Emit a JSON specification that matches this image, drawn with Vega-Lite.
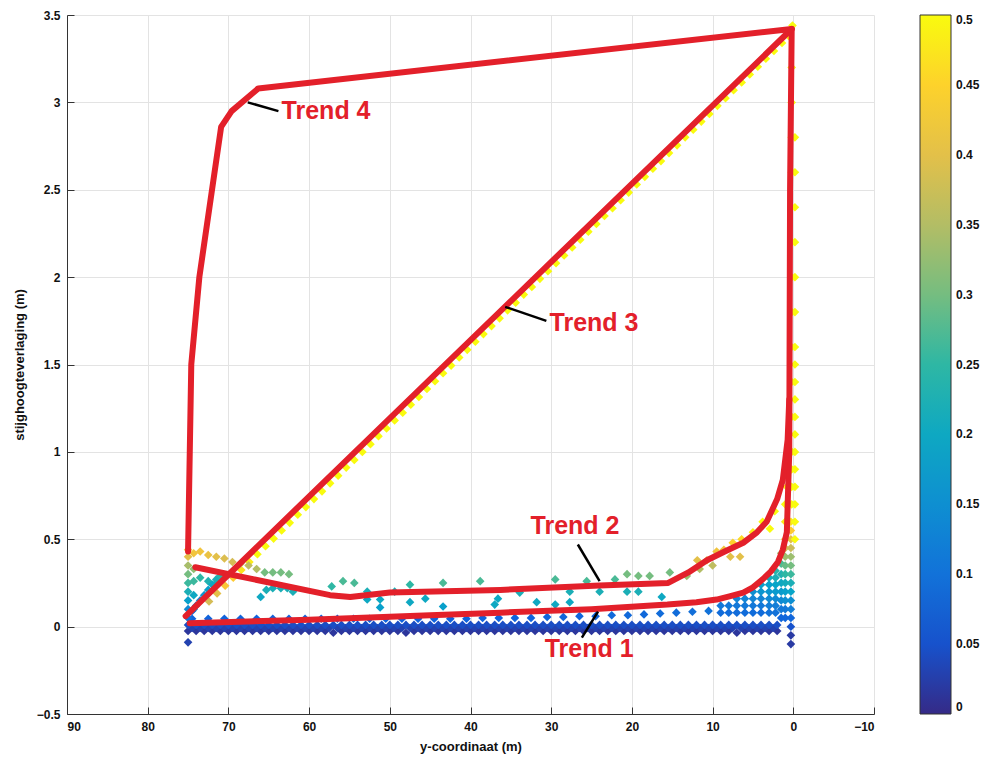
{
"$schema":"https://vega.github.io/schema/vega-lite/v6.json",
"width":807,"height":699,
"autosize":{"type":"none"},
"padding":{"left":67,"top":15,"right":114,"bottom":49},
"config":{"view":{"stroke":null},"font":"Liberation Sans",
 "axis":{"gridColor":"#e3e3e3","gridWidth":1,"domainColor":"#333","tickColor":"#333","tickSize":-7,"labelPadding":14,"labelFont":"Liberation Sans","labelFontWeight":"bold","labelFontSize":12,"labelColor":"#111","titleFont":"Liberation Sans","titleFontSize":13,"titleFontWeight":"bold","titleColor":"#111"}},
"datasets":{
"pts":[
{"x":75,"y":-0.025,"c":0.015},{"x":74,"y":-0.025,"c":0.015},{"x":73,"y":-0.025,"c":0.015},{"x":72,"y":-0.025,"c":0.015},{"x":71,"y":-0.025,"c":0.015},{"x":70,"y":-0.025,"c":0.015},{"x":69,"y":-0.025,"c":0.015},{"x":68,"y":-0.025,"c":0.015},{"x":67,"y":-0.025,"c":0.015},{"x":66,"y":-0.025,"c":0.015},{"x":65,"y":-0.025,"c":0.015},{"x":64,"y":-0.025,"c":0.015},{"x":63,"y":-0.025,"c":0.015},{"x":62,"y":-0.025,"c":0.015},{"x":61,"y":-0.025,"c":0.015},{"x":60,"y":-0.025,"c":0.015},{"x":59,"y":-0.025,"c":0.015},{"x":58,"y":-0.025,"c":0.015},{"x":57,"y":-0.035,"c":0.015},{"x":56,"y":-0.025,"c":0.015},{"x":55,"y":-0.025,"c":0.015},{"x":54,"y":-0.025,"c":0.015},{"x":53,"y":-0.025,"c":0.015},{"x":52,"y":-0.025,"c":0.015},{"x":51,"y":-0.025,"c":0.015},{"x":50,"y":-0.025,"c":0.015},{"x":49,"y":-0.025,"c":0.015},{"x":48,"y":-0.035,"c":0.015},{"x":47,"y":-0.025,"c":0.015},{"x":46,"y":-0.025,"c":0.015},{"x":45,"y":-0.025,"c":0.015},{"x":44,"y":-0.025,"c":0.015},{"x":43,"y":-0.025,"c":0.015},{"x":42,"y":-0.025,"c":0.015},{"x":41,"y":-0.025,"c":0.015},{"x":40,"y":-0.025,"c":0.015},{"x":39,"y":-0.025,"c":0.015},{"x":38,"y":-0.025,"c":0.015},{"x":37,"y":-0.025,"c":0.015},{"x":36,"y":-0.025,"c":0.015},{"x":35,"y":-0.025,"c":0.015},{"x":34,"y":-0.025,"c":0.015},{"x":33,"y":-0.025,"c":0.015},{"x":32,"y":-0.025,"c":0.015},{"x":31,"y":-0.025,"c":0.015},{"x":30,"y":-0.025,"c":0.015},{"x":29,"y":-0.025,"c":0.015},{"x":28,"y":-0.025,"c":0.015},{"x":27,"y":-0.025,"c":0.015},{"x":26,"y":-0.025,"c":0.015},{"x":25,"y":-0.025,"c":0.015},{"x":24,"y":-0.025,"c":0.015},{"x":23,"y":-0.025,"c":0.015},{"x":22,"y":-0.025,"c":0.015},{"x":21,"y":-0.025,"c":0.015},{"x":20,"y":-0.025,"c":0.015},{"x":19,"y":-0.025,"c":0.015},{"x":18,"y":-0.025,"c":0.015},{"x":17,"y":-0.025,"c":0.015},{"x":16,"y":-0.025,"c":0.015},{"x":15,"y":-0.025,"c":0.015},{"x":14,"y":-0.025,"c":0.015},{"x":13,"y":-0.025,"c":0.015},{"x":12,"y":-0.025,"c":0.015},{"x":11,"y":-0.025,"c":0.015},{"x":10,"y":-0.025,"c":0.015},{"x":9,"y":-0.025,"c":0.015},{"x":8,"y":-0.025,"c":0.015},{"x":7,"y":-0.035,"c":0.015},{"x":6,"y":-0.025,"c":0.015},{"x":5,"y":-0.025,"c":0.015},{"x":4,"y":-0.025,"c":0.015},{"x":3,"y":-0.025,"c":0.015},{"x":2,"y":-0.025,"c":0.015},
{"x":74.5,"y":-0.008,"c":0.03},{"x":73.5,"y":-0.008,"c":0.03},{"x":72.5,"y":-0.008,"c":0.03},{"x":71.5,"y":-0.008,"c":0.03},{"x":70.5,"y":-0.008,"c":0.03},{"x":69.5,"y":-0.008,"c":0.03},{"x":68.5,"y":-0.008,"c":0.03},{"x":67.5,"y":-0.008,"c":0.03},{"x":66.5,"y":-0.008,"c":0.03},{"x":65.5,"y":-0.008,"c":0.03},{"x":64.5,"y":-0.008,"c":0.03},{"x":63.5,"y":-0.008,"c":0.03},{"x":62.5,"y":-0.008,"c":0.03},{"x":61.5,"y":-0.008,"c":0.03},{"x":60.5,"y":-0.008,"c":0.03},{"x":59.5,"y":-0.008,"c":0.03},{"x":58.5,"y":-0.008,"c":0.03},{"x":57.5,"y":-0.008,"c":0.03},{"x":56.5,"y":-0.008,"c":0.03},{"x":55.5,"y":-0.008,"c":0.03},{"x":54.5,"y":-0.008,"c":0.03},{"x":53.5,"y":-0.008,"c":0.03},{"x":52.5,"y":-0.008,"c":0.03},{"x":51.5,"y":-0.008,"c":0.03},{"x":50.5,"y":-0.008,"c":0.03},{"x":49.5,"y":-0.008,"c":0.03},{"x":48.5,"y":-0.008,"c":0.03},{"x":47.5,"y":-0.008,"c":0.03},{"x":46.5,"y":-0.008,"c":0.03},{"x":45.5,"y":-0.008,"c":0.03},{"x":44.5,"y":-0.008,"c":0.03},{"x":43.5,"y":-0.008,"c":0.03},{"x":42.5,"y":-0.008,"c":0.03},{"x":41.5,"y":-0.008,"c":0.03},{"x":40.5,"y":-0.008,"c":0.03},{"x":39.5,"y":-0.008,"c":0.03},{"x":38.5,"y":-0.008,"c":0.03},{"x":37.5,"y":-0.008,"c":0.03},{"x":36.5,"y":-0.008,"c":0.03},{"x":35.5,"y":-0.008,"c":0.03},{"x":34.5,"y":-0.008,"c":0.03},{"x":33.5,"y":-0.008,"c":0.03},{"x":32.5,"y":-0.008,"c":0.03},{"x":31.5,"y":-0.008,"c":0.03},{"x":30.5,"y":-0.008,"c":0.03},{"x":29.5,"y":-0.008,"c":0.03},{"x":28.5,"y":-0.008,"c":0.03},{"x":27.5,"y":-0.008,"c":0.03},{"x":26.5,"y":-0.008,"c":0.03},{"x":25.5,"y":-0.008,"c":0.03},{"x":24.5,"y":-0.008,"c":0.03},{"x":23.5,"y":-0.008,"c":0.03},{"x":22.5,"y":-0.008,"c":0.03},{"x":21.5,"y":-0.008,"c":0.03},{"x":20.5,"y":-0.008,"c":0.03},{"x":19.5,"y":-0.008,"c":0.03},{"x":18.5,"y":-0.008,"c":0.03},{"x":17.5,"y":-0.008,"c":0.03},{"x":16.5,"y":-0.008,"c":0.03},{"x":15.5,"y":-0.008,"c":0.03},{"x":14.5,"y":-0.008,"c":0.03},{"x":13.5,"y":-0.008,"c":0.03},{"x":12.5,"y":-0.008,"c":0.03},{"x":11.5,"y":-0.008,"c":0.03},{"x":10.5,"y":-0.008,"c":0.03},{"x":9.5,"y":-0.008,"c":0.03},{"x":8.5,"y":-0.008,"c":0.03},{"x":7.5,"y":-0.008,"c":0.03},{"x":6.5,"y":-0.008,"c":0.03},{"x":5.5,"y":-0.008,"c":0.03},{"x":4.5,"y":-0.008,"c":0.03},{"x":3.5,"y":-0.008,"c":0.03},{"x":2.5,"y":-0.008,"c":0.03},
{"x":75,"y":0.01,"c":0.045},{"x":74,"y":0.01,"c":0.045},{"x":73,"y":0.01,"c":0.045},{"x":72,"y":0.01,"c":0.045},{"x":71,"y":0.01,"c":0.045},{"x":70,"y":0.01,"c":0.045},{"x":69,"y":0.01,"c":0.045},{"x":68,"y":0.01,"c":0.045},{"x":67,"y":0.01,"c":0.045},{"x":66,"y":0.01,"c":0.045},{"x":65,"y":0.01,"c":0.045},{"x":64,"y":0.01,"c":0.045},{"x":63,"y":0.01,"c":0.045},{"x":62,"y":0.01,"c":0.045},{"x":61,"y":0.01,"c":0.045},{"x":60,"y":0.01,"c":0.045},{"x":59,"y":0.01,"c":0.045},{"x":58,"y":0.01,"c":0.045},{"x":57,"y":0.01,"c":0.045},{"x":56,"y":0.01,"c":0.045},{"x":55,"y":0.01,"c":0.045},{"x":54,"y":0.01,"c":0.045},{"x":53,"y":0.01,"c":0.045},{"x":52,"y":0.01,"c":0.045},{"x":51,"y":0.01,"c":0.045},{"x":50,"y":0.01,"c":0.045},{"x":49,"y":0.01,"c":0.045},{"x":48,"y":0.01,"c":0.045},{"x":47,"y":0.01,"c":0.045},{"x":46,"y":0.01,"c":0.045},{"x":45,"y":0.01,"c":0.045},{"x":44,"y":0.01,"c":0.045},{"x":43,"y":0.01,"c":0.045},{"x":42,"y":0.01,"c":0.045},{"x":41,"y":0.01,"c":0.045},{"x":40,"y":0.01,"c":0.045},{"x":39,"y":0.01,"c":0.045},{"x":38,"y":0.01,"c":0.045},{"x":37,"y":0.01,"c":0.045},{"x":36,"y":0.01,"c":0.045},{"x":35,"y":0.01,"c":0.045},{"x":34,"y":0.01,"c":0.045},{"x":33,"y":0.01,"c":0.045},{"x":32,"y":0.01,"c":0.045},{"x":31,"y":0.01,"c":0.045},{"x":30,"y":0.01,"c":0.045},{"x":29,"y":0.01,"c":0.045},{"x":28,"y":0.01,"c":0.045},{"x":27,"y":0.01,"c":0.045},{"x":26,"y":0.01,"c":0.045},{"x":25,"y":0.01,"c":0.045},{"x":24,"y":0.01,"c":0.045},{"x":23,"y":0.01,"c":0.045},{"x":22,"y":0.01,"c":0.045},{"x":21,"y":0.01,"c":0.045},{"x":20,"y":0.01,"c":0.045},{"x":19,"y":0.01,"c":0.045},{"x":18,"y":0.01,"c":0.045},{"x":17,"y":0.01,"c":0.045},{"x":16,"y":0.01,"c":0.045},{"x":15,"y":0.01,"c":0.045},{"x":14,"y":0.01,"c":0.045},{"x":13,"y":0.01,"c":0.045},{"x":12,"y":0.01,"c":0.045},{"x":11,"y":0.01,"c":0.045},{"x":10,"y":0.01,"c":0.045},{"x":9,"y":0.01,"c":0.045},{"x":8,"y":0.01,"c":0.045},{"x":7,"y":0.01,"c":0.045},{"x":6,"y":0.01,"c":0.045},{"x":5,"y":0.01,"c":0.045},{"x":4,"y":0.01,"c":0.045},{"x":3,"y":0.01,"c":0.045},{"x":2,"y":0.01,"c":0.045},
{"x":74.5,"y":0.045,"c":0.075},{"x":72.5,"y":0.045,"c":0.075},{"x":70.5,"y":0.045,"c":0.075},{"x":68.5,"y":0.045,"c":0.075},{"x":66.5,"y":0.045,"c":0.075},{"x":64.5,"y":0.045,"c":0.075},{"x":62.5,"y":0.045,"c":0.075},{"x":60.5,"y":0.045,"c":0.075},{"x":58.5,"y":0.045,"c":0.075},{"x":56.5,"y":0.045,"c":0.075},{"x":54.5,"y":0.045,"c":0.075},{"x":52.5,"y":0.045,"c":0.075},{"x":50.5,"y":0.045,"c":0.075},{"x":48.5,"y":0.045,"c":0.075},{"x":46.5,"y":0.045,"c":0.075},{"x":44.5,"y":0.045,"c":0.075},{"x":42.5,"y":0.045,"c":0.075},{"x":40.5,"y":0.045,"c":0.075},{"x":38.5,"y":0.05,"c":0.075},{"x":36.5,"y":0.05,"c":0.075},{"x":34.5,"y":0.05,"c":0.075},{"x":32.5,"y":0.05,"c":0.075},{"x":30.5,"y":0.055,"c":0.08},{"x":28.5,"y":0.055,"c":0.08},{"x":26.5,"y":0.06,"c":0.08},{"x":24.5,"y":0.06,"c":0.08},{"x":22.5,"y":0.065,"c":0.085},{"x":20.5,"y":0.065,"c":0.085},{"x":18.5,"y":0.07,"c":0.085},{"x":16.5,"y":0.075,"c":0.09},{"x":14.5,"y":0.08,"c":0.09},{"x":12.5,"y":0.085,"c":0.095},{"x":10.5,"y":0.09,"c":0.1},
{"x":9,"y":0.08,"c":0.09},{"x":9,"y":0.12,"c":0.11},{"x":8,"y":0.08,"c":0.09},{"x":8,"y":0.12,"c":0.11},{"x":7,"y":0.08,"c":0.09},{"x":7,"y":0.12,"c":0.11},{"x":7,"y":0.16,"c":0.13},{"x":6,"y":0.08,"c":0.09},{"x":6,"y":0.12,"c":0.11},{"x":6,"y":0.16,"c":0.13},{"x":5,"y":0.08,"c":0.09},{"x":5,"y":0.12,"c":0.11},{"x":5,"y":0.16,"c":0.13},{"x":5,"y":0.2,"c":0.15},{"x":4,"y":0.08,"c":0.09},{"x":4,"y":0.12,"c":0.11},{"x":4,"y":0.16,"c":0.13},{"x":4,"y":0.2,"c":0.16},{"x":4,"y":0.24,"c":0.18},{"x":3,"y":0.08,"c":0.1},{"x":3,"y":0.12,"c":0.12},{"x":3,"y":0.16,"c":0.14},{"x":3,"y":0.2,"c":0.16},{"x":3,"y":0.24,"c":0.18},{"x":3,"y":0.28,"c":0.21},{"x":2.2,"y":0.08,"c":0.1},{"x":2.2,"y":0.12,"c":0.12},{"x":2.2,"y":0.16,"c":0.14},{"x":2.2,"y":0.2,"c":0.17},{"x":2.2,"y":0.24,"c":0.19},{"x":2.2,"y":0.28,"c":0.22},{"x":2.2,"y":0.32,"c":0.24},{"x":1.5,"y":0.05,"c":0.08},{"x":1.5,"y":0.1,"c":0.11},{"x":1.5,"y":0.15,"c":0.14},{"x":1.5,"y":0.2,"c":0.17},{"x":1.5,"y":0.25,"c":0.2},{"x":1.5,"y":0.3,"c":0.23},{"x":1.5,"y":0.36,"c":0.27},{"x":1.5,"y":0.42,"c":0.33},{"x":1,"y":0.05,"c":0.08},{"x":1,"y":0.1,"c":0.11},{"x":1,"y":0.15,"c":0.15},{"x":1,"y":0.2,"c":0.18},{"x":1,"y":0.25,"c":0.21},{"x":1,"y":0.3,"c":0.25},{"x":1,"y":0.35,"c":0.29},{"x":1,"y":0.4,"c":0.33},{"x":1,"y":0.45,"c":0.38},{"x":1,"y":0.5,"c":0.43},{"x":1,"y":0.6,"c":0.48},{"x":1,"y":0.7,"c":0.5},{"x":0.8,"y":0.8,"c":0.5},{"x":0.7,"y":0.9,"c":0.5},
{"x":0.3,"y":-0.1,"c":0.02},{"x":0.3,"y":-0.05,"c":0.02},{"x":0.3,"y":0.0,"c":0.05},{"x":0.3,"y":0.05,"c":0.08},{"x":0.3,"y":0.1,"c":0.12},{"x":0.3,"y":0.15,"c":0.15},{"x":0.3,"y":0.2,"c":0.19},{"x":0.3,"y":0.25,"c":0.22},{"x":0.3,"y":0.3,"c":0.26},{"x":0.3,"y":0.35,"c":0.3},{"x":0.3,"y":0.4,"c":0.33},{"x":0.3,"y":0.45,"c":0.37},{"x":0.3,"y":0.5,"c":0.4},{"x":0.3,"y":0.55,"c":0.44},{"x":0.3,"y":0.6,"c":0.47},
{"x":-0.2,"y":0.5,"c":0.5},{"x":-0.2,"y":0.6,"c":0.5},{"x":-0.2,"y":0.7,"c":0.5},{"x":-0.2,"y":0.8,"c":0.5},{"x":-0.2,"y":0.9,"c":0.5},{"x":-0.2,"y":1.0,"c":0.5},{"x":-0.2,"y":1.1,"c":0.5},{"x":-0.2,"y":1.2,"c":0.5},{"x":-0.2,"y":1.3,"c":0.5},{"x":-0.2,"y":1.4,"c":0.5},{"x":-0.2,"y":1.5,"c":0.5},{"x":-0.2,"y":1.6,"c":0.5},{"x":-0.2,"y":1.8,"c":0.5},{"x":-0.2,"y":2.0,"c":0.5},{"x":-0.2,"y":2.2,"c":0.5},{"x":-0.2,"y":2.4,"c":0.5},{"x":-0.2,"y":2.6,"c":0.5},{"x":-0.2,"y":2.8,"c":0.5},
{"x":0.2,"y":0.7,"c":0.5},{"x":0.2,"y":0.8,"c":0.5},{"x":0.2,"y":0.9,"c":0.5},{"x":0.2,"y":1.0,"c":0.5},{"x":0.2,"y":1.2,"c":0.5},{"x":0.2,"y":1.4,"c":0.5},{"x":0.2,"y":1.6,"c":0.5},{"x":0.2,"y":1.8,"c":0.5},{"x":0.2,"y":2.0,"c":0.5},{"x":0.2,"y":2.2,"c":0.5},{"x":0.2,"y":2.4,"c":0.5},{"x":0.2,"y":2.6,"c":0.5},{"x":0.2,"y":2.8,"c":0.5},{"x":0.2,"y":3.0,"c":0.5},{"x":0.2,"y":3.2,"c":0.5},{"x":0.1,"y":3.44,"c":0.5},
{"x":72.4,"y":0.144,"c":0.38},{"x":70.4,"y":0.234,"c":0.43},{"x":68.4,"y":0.324,"c":0.47},{"x":66.4,"y":0.414,"c":0.5},{"x":64.4,"y":0.504,"c":0.5},{"x":62.4,"y":0.594,"c":0.5},{"x":60.4,"y":0.684,"c":0.5},{"x":58.4,"y":0.774,"c":0.5},{"x":56.4,"y":0.864,"c":0.5},{"x":54.4,"y":0.954,"c":0.5},{"x":52.4,"y":1.044,"c":0.5},{"x":50.4,"y":1.134,"c":0.5},{"x":48.4,"y":1.224,"c":0.5},{"x":46.4,"y":1.314,"c":0.5},{"x":44.4,"y":1.404,"c":0.5},{"x":42.4,"y":1.494,"c":0.5},{"x":40.4,"y":1.584,"c":0.5},{"x":38.4,"y":1.674,"c":0.5},{"x":36.4,"y":1.764,"c":0.5},{"x":34.4,"y":1.854,"c":0.5},{"x":32.4,"y":1.944,"c":0.5},{"x":30.4,"y":2.034,"c":0.5},{"x":28.4,"y":2.124,"c":0.5},{"x":26.4,"y":2.214,"c":0.5},{"x":24.4,"y":2.304,"c":0.5},{"x":22.4,"y":2.394,"c":0.5},{"x":20.4,"y":2.484,"c":0.5},{"x":18.4,"y":2.574,"c":0.5},{"x":16.4,"y":2.664,"c":0.5},{"x":14.4,"y":2.754,"c":0.5},{"x":12.4,"y":2.844,"c":0.5},{"x":10.4,"y":2.934,"c":0.5},{"x":8.4,"y":3.024,"c":0.5},{"x":6.4,"y":3.114,"c":0.5},{"x":4.4,"y":3.204,"c":0.5},{"x":2.4,"y":3.294,"c":0.5},{"x":0.6,"y":3.38,"c":0.5},
{"x":71.4,"y":0.19,"c":0.4},{"x":69.4,"y":0.28,"c":0.44},{"x":67.4,"y":0.37,"c":0.48},{"x":65.4,"y":0.46,"c":0.5},{"x":63.4,"y":0.55,"c":0.5},{"x":61.4,"y":0.64,"c":0.5},{"x":59.4,"y":0.73,"c":0.5},{"x":57.4,"y":0.82,"c":0.5},{"x":55.4,"y":0.91,"c":0.5},{"x":53.4,"y":1.0,"c":0.5},{"x":51.4,"y":1.09,"c":0.5},{"x":49.4,"y":1.18,"c":0.5},{"x":47.4,"y":1.27,"c":0.5},{"x":45.4,"y":1.36,"c":0.5},{"x":43.4,"y":1.45,"c":0.5},{"x":41.4,"y":1.54,"c":0.5},{"x":39.4,"y":1.63,"c":0.5},{"x":37.4,"y":1.72,"c":0.5},{"x":35.4,"y":1.81,"c":0.5},{"x":33.4,"y":1.9,"c":0.5},{"x":31.4,"y":1.99,"c":0.5},{"x":29.4,"y":2.08,"c":0.5},{"x":27.4,"y":2.17,"c":0.5},{"x":25.4,"y":2.26,"c":0.5},{"x":23.4,"y":2.35,"c":0.5},{"x":21.4,"y":2.44,"c":0.5},{"x":19.4,"y":2.53,"c":0.5},{"x":17.4,"y":2.62,"c":0.5},{"x":15.4,"y":2.71,"c":0.5},{"x":13.4,"y":2.8,"c":0.5},{"x":11.4,"y":2.89,"c":0.5},{"x":9.4,"y":2.98,"c":0.5},{"x":7.4,"y":3.07,"c":0.5},{"x":5.4,"y":3.16,"c":0.5},{"x":3.4,"y":3.25,"c":0.5},{"x":1.4,"y":3.34,"c":0.5},
{"x":75,"y":-0.09,"c":0.03},{"x":75,"y":0.05,"c":0.1},{"x":75,"y":0.1,"c":0.14},{"x":75,"y":0.15,"c":0.18},{"x":75,"y":0.2,"c":0.22},{"x":75,"y":0.25,"c":0.26},{"x":75,"y":0.3,"c":0.3},{"x":75,"y":0.35,"c":0.34},{"x":75,"y":0.4,"c":0.4},{"x":75,"y":0.44,"c":0.43},{"x":74.3,"y":0.1,"c":0.15},{"x":74.3,"y":0.18,"c":0.2},{"x":74.3,"y":0.26,"c":0.26},{"x":74.3,"y":0.33,"c":0.32},{"x":74.3,"y":0.42,"c":0.42},
{"x":73.5,"y":0.43,"c":0.42},{"x":72.5,"y":0.41,"c":0.41},{"x":71.5,"y":0.4,"c":0.4},{"x":70.5,"y":0.39,"c":0.39},{"x":69.5,"y":0.37,"c":0.38},{"x":68.5,"y":0.36,"c":0.37},{"x":67.5,"y":0.35,"c":0.36},{"x":66.5,"y":0.33,"c":0.35},
{"x":65.5,"y":0.31,"c":0.3},{"x":64.5,"y":0.31,"c":0.3},{"x":63.5,"y":0.31,"c":0.3},{"x":62.5,"y":0.3,"c":0.3},
{"x":73.5,"y":0.28,"c":0.25},{"x":72.5,"y":0.26,"c":0.23},{"x":71.5,"y":0.25,"c":0.22},
{"x":74.5,"y":0.09,"c":0.1},{"x":74,"y":0.12,"c":0.12},{"x":73.5,"y":0.15,"c":0.14},{"x":73,"y":0.18,"c":0.16},{"x":72.5,"y":0.21,"c":0.18},{"x":72,"y":0.24,"c":0.2},{"x":71.5,"y":0.27,"c":0.22},{"x":71,"y":0.29,"c":0.24},
{"x":66,"y":0.17,"c":0.2},{"x":65.3,"y":0.21,"c":0.22},{"x":64.5,"y":0.22,"c":0.22},{"x":63.5,"y":0.22,"c":0.22},{"x":62.7,"y":0.22,"c":0.22},{"x":62,"y":0.2,"c":0.22},
{"x":57.2,"y":0.23,"c":0.25},{"x":55.8,"y":0.26,"c":0.27},{"x":54.4,"y":0.25,"c":0.27},{"x":52.8,"y":0.2,"c":0.22},{"x":52.8,"y":0.155,"c":0.2},{"x":51.2,"y":0.155,"c":0.2},{"x":51.2,"y":0.11,"c":0.18},{"x":49.4,"y":0.2,"c":0.22},{"x":47.5,"y":0.24,"c":0.25},{"x":47.5,"y":0.14,"c":0.2},{"x":45.6,"y":0.16,"c":0.2},{"x":43.4,"y":0.25,"c":0.27},{"x":43.4,"y":0.115,"c":0.18},{"x":38.8,"y":0.26,"c":0.27},{"x":36.6,"y":0.16,"c":0.2},
{"x":33.9,"y":0.195,"c":0.22},{"x":37,"y":0.126,"c":0.2},{"x":31.8,"y":0.14,"c":0.2},{"x":29.5,"y":0.27,"c":0.27},{"x":29.5,"y":0.126,"c":0.2},{"x":27.7,"y":0.2,"c":0.22},{"x":27.7,"y":0.14,"c":0.2},{"x":25.6,"y":0.26,"c":0.27},{"x":24,"y":0.2,"c":0.22},{"x":22.1,"y":0.27,"c":0.27},{"x":20.6,"y":0.3,"c":0.3},{"x":20.6,"y":0.2,"c":0.22},{"x":19.2,"y":0.29,"c":0.3},{"x":19.2,"y":0.2,"c":0.22},{"x":17.8,"y":0.29,"c":0.3},{"x":16.3,"y":0.17,"c":0.2},{"x":15.3,"y":0.31,"c":0.3},
{"x":13.2,"y":0.29,"c":0.33},{"x":11.6,"y":0.33,"c":0.35},{"x":10,"y":0.35,"c":0.36},{"x":11.9,"y":0.38,"c":0.4},{"x":10.7,"y":0.38,"c":0.4},{"x":9.5,"y":0.43,"c":0.42},{"x":8.6,"y":0.44,"c":0.42},{"x":7.8,"y":0.4,"c":0.4},{"x":6.6,"y":0.4,"c":0.4},{"x":7.5,"y":0.48,"c":0.45},{"x":6.4,"y":0.5,"c":0.46},{"x":5,"y":0.54,"c":0.48},{"x":3.8,"y":0.6,"c":0.5},{"x":2.9,"y":0.56,"c":0.5},{"x":2.3,"y":0.66,"c":0.5}
],
"trend":[
{"t":"T1","o":1,"x":74.8,"y":0.02},{"t":"T1","o":2,"x":60,"y":0.04},{"t":"T1","o":3,"x":45,"y":0.065},{"t":"T1","o":4,"x":36.3,"y":0.08},{"t":"T1","o":5,"x":25,"y":0.1},{"t":"T1","o":6,"x":15.6,"y":0.126},{"t":"T1","o":7,"x":12,"y":0.14},{"t":"T1","o":8,"x":9.5,"y":0.155},{"t":"T1","o":9,"x":7.8,"y":0.175},{"t":"T1","o":10,"x":6.2,"y":0.195},{"t":"T1","o":11,"x":5,"y":0.225},{"t":"T1","o":12,"x":3.8,"y":0.27},{"t":"T1","o":13,"x":2.8,"y":0.315},{"t":"T1","o":14,"x":1.9,"y":0.37},{"t":"T1","o":15,"x":1.3,"y":0.44},{"t":"T1","o":16,"x":0.8,"y":0.54},{"t":"T1","o":17,"x":0.5,"y":1.0},{"t":"T1","o":18,"x":0.4,"y":2.5},{"t":"T1","o":19,"x":0.2,"y":3.42},
{"t":"T2","o":1,"x":74.1,"y":0.34},{"t":"T2","o":2,"x":57.4,"y":0.18},{"t":"T2","o":3,"x":54.9,"y":0.17},{"t":"T2","o":4,"x":50,"y":0.195},{"t":"T2","o":5,"x":36.3,"y":0.21},{"t":"T2","o":6,"x":24,"y":0.235},{"t":"T2","o":7,"x":15.5,"y":0.25},{"t":"T2","o":8,"x":13,"y":0.31},{"t":"T2","o":9,"x":10.7,"y":0.38},{"t":"T2","o":10,"x":8.5,"y":0.43},{"t":"T2","o":11,"x":6.2,"y":0.48},{"t":"T2","o":12,"x":4.5,"y":0.54},{"t":"T2","o":13,"x":3.3,"y":0.6},{"t":"T2","o":14,"x":2.0,"y":0.73},{"t":"T2","o":15,"x":1.3,"y":0.84},{"t":"T2","o":16,"x":0.7,"y":1.07},{"t":"T2","o":17,"x":0.5,"y":1.3},
{"t":"T3","o":1,"x":75.3,"y":0.06},{"t":"T3","o":2,"x":0.2,"y":3.42},
{"t":"T4","o":1,"x":75.0,"y":0.43},{"t":"T4","o":2,"x":74.6,"y":1.5},{"t":"T4","o":3,"x":73.6,"y":2.0},{"t":"T4","o":4,"x":70.9,"y":2.86},{"t":"T4","o":5,"x":69.6,"y":2.95},{"t":"T4","o":6,"x":66.3,"y":3.08},{"t":"T4","o":7,"x":0.2,"y":3.42}
],
"lead":[
{"x":67.6,"y":3.0,"x2":63.8,"y2":2.95},
{"x":35.7,"y":1.83,"x2":30.6,"y2":1.75},
{"x":26.7,"y":0.47,"x2":24.0,"y2":0.26},
{"x":24.2,"y":0.086,"x2":26.2,"y2":-0.063}
],
"lab":[
{"text":"Trend 4","x":57.9,"y":2.95},
{"text":"Trend 3","x":24.7,"y":1.74},
{"text":"Trend 2","x":27.05,"y":0.573},
{"text":"Trend 1","x":25.3,"y":-0.13}
]
},
"layer":[
{"data":{"name":"pts"},"mark":{"type":"point","shape":"diamond","filled":true,"size":75,"opacity":1},
 "encoding":{
  "x":{"field":"x","type":"quantitative","scale":{"domain":[-10,90],"reverse":true,"nice":false,"zero":false},
   "axis":{"values":[90,80,70,60,50,40,30,20,10,0,-10],"format":"~g","title":"y-coordinaat (m)","titlePadding":8}},
  "y":{"field":"y","type":"quantitative","scale":{"domain":[-0.5,3.5],"nice":false,"zero":false},
   "axis":{"values":[-0.5,0,0.5,1,1.5,2,2.5,3,3.5],"format":"~g","title":"stijghoogteverlaging (m)","titlePadding":10}},
  "color":{"field":"c","type":"quantitative",
   "scale":{"domain":[0,0.0625,0.125,0.1875,0.25,0.3125,0.375,0.4375,0.5],"range":["#352A87","#0F5CDD","#1481D6","#06A4CA","#2EB7A4","#87BF77","#D1BB59","#FEC832","#F9FB0E"],"interpolate":"rgb"},
   "legend":{"orient":"none","legendX":853,"legendY":0,"direction":"vertical","gradientLength":699,"gradientThickness":31,"values":[0,0.05,0.1,0.15,0.2,0.25,0.3,0.35,0.4,0.45,0.5],"format":"~g","title":null,"labelFont":"Liberation Sans","labelFontWeight":"bold","labelFontSize":12,"labelColor":"#111","labelOffset":5,"gradientStrokeColor":"#333","gradientStrokeWidth":1}}
 }},
{"data":{"name":"trend"},"mark":{"type":"line","color":"#E3202A","strokeWidth":6,"strokeJoin":"round","strokeCap":"round"},
 "encoding":{"x":{"field":"x","type":"quantitative"},"y":{"field":"y","type":"quantitative"},"detail":{"field":"t"},"order":{"field":"o"}}},
{"data":{"name":"lead"},"mark":{"type":"rule","color":"#000","strokeWidth":2.5},
 "encoding":{"x":{"field":"x","type":"quantitative"},"y":{"field":"y","type":"quantitative"},"x2":{"field":"x2"},"y2":{"field":"y2"}}},
{"data":{"name":"lab"},"mark":{"type":"text","color":"#E3202A","fontSize":25,"fontWeight":"bold","font":"Liberation Sans","baseline":"middle","align":"center"},
 "encoding":{"x":{"field":"x","type":"quantitative"},"y":{"field":"y","type":"quantitative"},"text":{"field":"text"}}}
]
}
